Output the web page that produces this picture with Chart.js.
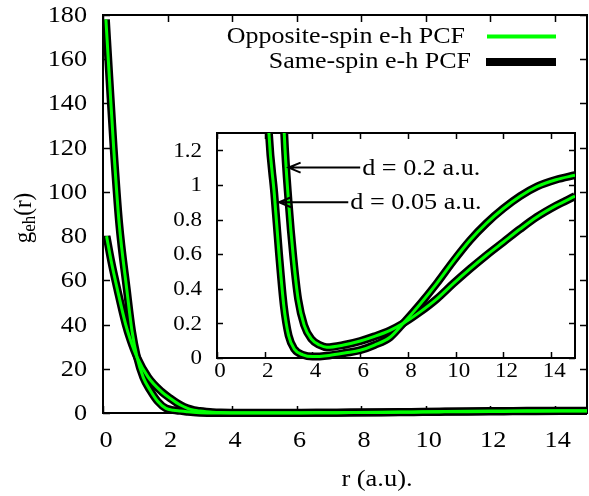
<!DOCTYPE html>
<html>
<head>
<meta charset="utf-8">
<script src="https://cdn.jsdelivr.net/npm/chart.js@4.4.1/dist/chart.umd.min.js"></script>
<style>
  html, body { margin: 0; padding: 0; background: #fff; }
  #wrap { position: relative; width: 589px; height: 496px; }
  #wrap canvas { position: absolute; left: 0; top: 0; }
</style>
</head>
<body>
<div id="wrap">
  <canvas id="mainChart" width="589" height="496"></canvas>
  <canvas id="insetChart" width="589" height="496"></canvas>
</div>
<script>
// e-h pair correlation function g_eh(r)
// (same-spin and opposite-spin curves lie on top of each other at this scale)
var r_d005 = [0.09, 0.2, 0.33, 0.5, 0.74, 0.9, 1.05, 1.25, 1.46, 1.7, 1.95, 2.18, 2.4, 2.6, 2.8, 3.0, 3.25, 3.6, 4.0, 4.7, 5.4, 6.0, 6.6, 7.25, 7.8, 8.5, 9.2, 9.9, 10.6, 11.3, 12.0, 12.7, 13.4, 14.2, 15.0];
var g_d005 = [178, 151, 120, 86, 55.6, 37, 25.5, 16, 10.3, 5.2, 2.1, 1.29, 0.95, 0.6, 0.3, 0.13, 0.05, 0.018, 0.008, 0.015, 0.03, 0.045, 0.075, 0.12, 0.2, 0.31, 0.43, 0.56, 0.68, 0.78, 0.864, 0.935, 0.99, 1.03, 1.056];

var r_d02 = [0.11, 0.25, 0.45, 0.7, 0.85, 1.05, 1.4, 1.82, 2.1, 2.4, 2.62, 2.82, 3.0, 3.2, 3.4, 3.65, 3.95, 4.3, 4.6, 5.3, 6.0, 6.6, 7.25, 7.8, 8.5, 9.2, 9.9, 10.6, 11.3, 12.0, 12.7, 13.4, 14.2, 15.0];
var g_d02 = [80, 69, 55.6, 40.2, 33, 25.4, 16.2, 9.6, 6.5, 3.6, 2.1, 1.29, 0.9, 0.58, 0.34, 0.19, 0.11, 0.075, 0.062, 0.075, 0.098, 0.125, 0.16, 0.2, 0.265, 0.34, 0.43, 0.515, 0.595, 0.67, 0.745, 0.815, 0.88, 0.935];

var legendLabels = ['Opposite-spin e-h PCF', 'Same-spin e-h PCF'];
var xTitle = 'r (a.u).';

// axis ranges
var xMax = 15, xStep = 2;
var mainYMax = 180, mainYStep = 20;
var insetYMax = 1.3, insetYStep = 0.2;

// inset arrows: label, y, start r, tip r
var arrowLabels = ['d = 0.2 a.u.', 'd = 0.05 a.u.'];
var arrowY = [1.1, 0.9];
var arrowFromX = [6.0, 5.5];
var arrowToX = [3.0, 2.6];

var GREEN = '#00ff00';
var SERIF = '"Liberation Serif", "Times New Roman", serif';
var SX = 1.14; // the source picture is a little wider than tall

function pts(xs, ys) {
  return xs.map(function(x, i) { return {x: x, y: ys[i]}; });
}

function makeDatasets(clip) {
  // Chart.js paints dataset 0 last, so the thin green opposite-spin
  // curves come first and end up on top of the thick black same-spin ones
  return [
    {label: legendLabels[0], data: pts(r_d005, g_d005), borderColor: GREEN, borderWidth: 3, clip: clip},
    {label: legendLabels[0], data: pts(r_d02, g_d02), borderColor: GREEN, borderWidth: 3, clip: clip},
    {label: legendLabels[1], data: pts(r_d005, g_d005), borderColor: '#000', borderWidth: 8, clip: clip},
    {label: legendLabels[1], data: pts(r_d02, g_d02), borderColor: '#000', borderWidth: 8, clip: clip}
  ];
}

// text with a small horizontal stretch
function stretchText(ctx, text, x, y, align, sx) {
  var w = ctx.measureText(text).width * sx;
  var left = align === 'right' ? x - w : (align === 'center' ? x - w / 2 : x);
  ctx.save();
  ctx.translate(left, y);
  ctx.scale(sx, 1);
  ctx.textAlign = 'left';
  ctx.fillText(text, 0, 0);
  ctx.restore();
}

function fmt(v) { return String(+v.toFixed(1)); }

// border box, gnuplot style inward ticks on all four sides, tick labels
var frameTicks = {
  id: 'frameTicks',
  beforeDatasetsDraw: function(chart, args, o) {
    var a = chart.chartArea, ctx = chart.ctx, len = o.len;
    var xs = chart.scales.x, ys = chart.scales.y;
    ctx.save();
    ctx.strokeStyle = '#000';
    ctx.lineWidth = 1.5;
    ctx.beginPath();
    xs.ticks.forEach(function(t) {
      var px = Math.round(xs.getPixelForValue(t.value)) + 0.5;
      ctx.moveTo(px, a.bottom); ctx.lineTo(px, a.bottom - len);
      ctx.moveTo(px, a.top); ctx.lineTo(px, a.top + len);
    });
    ys.ticks.forEach(function(t) {
      var py = Math.round(ys.getPixelForValue(t.value)) + 0.5;
      ctx.moveTo(a.left, py); ctx.lineTo(a.left + len, py);
      ctx.moveTo(a.right, py); ctx.lineTo(a.right - len, py);
    });
    ctx.stroke();
    ctx.lineWidth = 2;
    ctx.strokeRect(a.left, a.top, a.right - a.left, a.bottom - a.top);

    ctx.fillStyle = '#000';
    ctx.font = o.size + 'px ' + SERIF;
    ctx.textBaseline = 'middle';
    xs.ticks.forEach(function(t) {
      stretchText(ctx, fmt(t.value), xs.getPixelForValue(t.value) + o.dx, a.bottom + o.xGap, 'center', o.sx);
    });
    ys.ticks.forEach(function(t) {
      stretchText(ctx, fmt(t.value), a.left - o.yGap, ys.getPixelForValue(t.value) + 1, 'right', o.sx);
    });
    ctx.restore();
  }
};

// axis titles and key for the main plot
var mainDecor = {
  id: 'mainDecor',
  afterDraw: function(chart) {
    var ctx = chart.ctx;
    ctx.save();
    ctx.fillStyle = '#000';
    ctx.textBaseline = 'middle';

    // x title
    ctx.font = '23px ' + SERIF;
    stretchText(ctx, xTitle, 377, 480, 'center', 1.15);

    // y title g_eh(r), rotated
    ctx.translate(24, 218);
    ctx.rotate(-Math.PI / 2);
    ctx.scale(1, SX);
    ctx.textAlign = 'left';
    ctx.font = '23px ' + SERIF;
    var wg = ctx.measureText('g').width;
    var wr = ctx.measureText('(r)').width;
    ctx.font = '17px ' + SERIF;
    var we = ctx.measureText('eh').width;
    var x0 = -(wg + we + wr) / 2;
    ctx.font = '23px ' + SERIF;
    ctx.fillText('g', x0, 0);
    ctx.font = '17px ' + SERIF;
    ctx.fillText('eh', x0 + wg, 5);
    ctx.font = '23px ' + SERIF;
    ctx.fillText('(r)', x0 + wg + we, 0);
    ctx.setTransform(1, 0, 0, 1, 0, 0);

    // key
    ctx.font = '23px ' + SERIF;
    stretchText(ctx, legendLabels[0], 465, 37, 'right', 1.13);
    stretchText(ctx, legendLabels[1], 471, 62, 'right', 1.13);
    ctx.lineCap = 'butt';
    ctx.strokeStyle = GREEN; ctx.lineWidth = 4;
    ctx.beginPath(); ctx.moveTo(487, 36.5); ctx.lineTo(556, 36.5); ctx.stroke();
    ctx.strokeStyle = '#000'; ctx.lineWidth = 8;
    ctx.beginPath(); ctx.moveTo(486, 62); ctx.lineTo(556, 62); ctx.stroke();
    ctx.restore();
  }
};

// arrows and labels inside the inset
var insetArrows = {
  id: 'insetArrows',
  afterDraw: function(chart) {
    var ctx = chart.ctx, xs = chart.scales.x, ys = chart.scales.y;
    ctx.save();
    ctx.strokeStyle = '#000'; ctx.fillStyle = '#000';
    ctx.lineWidth = 2;
    ctx.font = '23px ' + SERIF;
    ctx.textBaseline = 'middle';
    for (var i = 0; i < arrowLabels.length; i++) {
      var y = ys.getPixelForValue(arrowY[i]);
      var x1 = xs.getPixelForValue(arrowFromX[i]);
      var x2 = xs.getPixelForValue(arrowToX[i]);
      ctx.beginPath();
      ctx.moveTo(x1, y); ctx.lineTo(x2, y);
      ctx.moveTo(x2 + 12, y - 5); ctx.lineTo(x2, y); ctx.lineTo(x2 + 12, y + 5);
      ctx.stroke();
      stretchText(ctx, arrowLabels[i], x1 + 2, y + 1, 'left', SX);
    }
    ctx.restore();
  }
};

function baseOptions(top, right, xH, yW, yMax, yStep, tickOpts) {
  return {
    responsive: false,
    animation: false,
    layout: {padding: {left: 0, top: top, right: right, bottom: 0}},
    elements: {
      point: {radius: 0},
      line: {cubicInterpolationMode: 'monotone', borderCapStyle: 'butt'}
    },
    scales: {
      x: {
        type: 'linear', min: 0, max: xMax,
        border: {display: false},
        grid: {display: false, drawTicks: false},
        ticks: {stepSize: xStep, includeBounds: false, display: false},
        afterFit: function(s) { s.height = xH; }
      },
      y: {
        type: 'linear', min: 0, max: yMax,
        border: {display: false},
        grid: {display: false, drawTicks: false},
        ticks: {stepSize: yStep, includeBounds: false, display: false},
        afterFit: function(s) { s.width = yW; }
      }
    },
    plugins: {
      legend: {display: false},
      tooltip: {enabled: false},
      frameTicks: tickOpts
    }
  };
}

var mainChart = new Chart(document.getElementById('mainChart'), {
  type: 'line',
  data: {datasets: makeDatasets({left: 0, top: 0, right: 0, bottom: 5})},
  plugins: [frameTicks, mainDecor],
  options: baseOptions(15, 2, 83, 103, mainYMax, mainYStep,
    {len: 7, size: 23, sx: SX, dx: 3, xGap: 28, yGap: 16})
});

var insetChart = new Chart(document.getElementById('insetChart'), {
  type: 'line',
  data: {datasets: makeDatasets({left: 0, top: 0, right: 0, bottom: 5})},
  plugins: [frameTicks, insetArrows],
  options: baseOptions(133, 14, 138, 217, insetYMax, insetYStep,
    {len: 6, size: 20, sx: 1.15, dx: 3, xGap: 14, yGap: 15})
});
</script>
</body>
</html>
